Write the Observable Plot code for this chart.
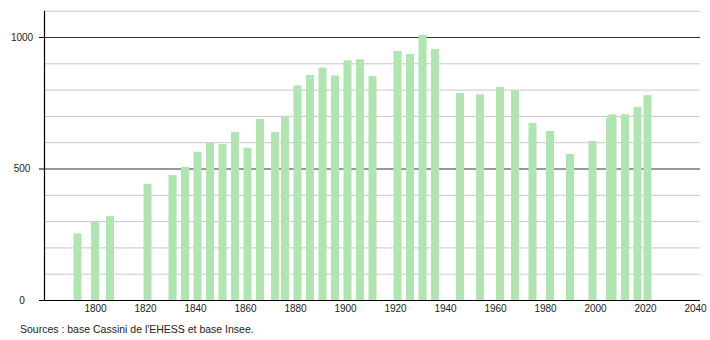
<!DOCTYPE html>
<html>
<head>
<meta charset="utf-8">
<script src="https://cdn.jsdelivr.net/npm/d3@7"></script>
<script src="https://cdn.jsdelivr.net/npm/@observablehq/plot@0.6"></script>
<style>
  body { margin: 0; background: #fff; font-family: "Liberation Sans", Arial, sans-serif; }
  #wrap { position: relative; width: 710px; height: 340px; }
  #caption { position: absolute; left: 20px; top: 323px; font-size: 10.5px; color: #222; white-space: nowrap; }
</style>
</head>
<body>
<div id="wrap">
  <div id="chart"></div>
  <div id="caption">Sources : base Cassini de l'EHESS et base Insee.</div>
</div>
<script>
const years = [1793,1800,1806,1821,1831,1836,1841,1846,1851,1856,1861,1866,1872,1876,1881,1886,1891,1896,1901,1906,1911,1921,1926,1931,1936,1946,1954,1962,1968,1975,1982,1990,1999,2006,2007,2012,2017,2021];
const population = [253,300,319,442,475,506,564,598,593,639,579,688,639,698,816,855,884,854,911,915,852,947,935,1008,954,787,782,810,798,673,643,555,605,693,706,706,733,779];
const xTicks = [1800,1820,1840,1860,1880,1900,1920,1940,1960,1980,2000,2020,2040];
const yLabelTicks = [0,500,1000];
const gridMinor = [100,200,300,400,600,700,800,900,1100];
const gridMajor = [500,1000];

const data = years.map((y, i) => ({year: y, pop: population[i]}));
const xMin = 1779.6, xMax = 2042;
const halfW = 1.6;

const chart = Plot.plot({
  width: 710,
  height: 318,
  marginLeft: 44,
  marginRight: 10,
  marginTop: 10.7,
  marginBottom: 18,
  style: {fontFamily: "Liberation Sans, Arial, sans-serif", fontSize: "10px", color: "#222", background: "#fff"},
  x: {type: "linear", domain: [xMin, xMax], axis: null},
  y: {type: "linear", domain: [0, 1100], axis: null, label: null},
  marks: [
    Plot.ruleY(gridMinor, {stroke: "#c8c8c8", strokeWidth: 1}),
    Plot.ruleY(gridMajor, {stroke: "#333", strokeWidth: 1}),
    Plot.rectY(data, {x1: d => d.year - halfW, x2: d => d.year + halfW, y1: 0, y2: "pop", fill: "#b0e4b0"}),
    Plot.ruleY([0], {stroke: "#000", strokeWidth: 1.2}),
    Plot.ruleY(yLabelTicks, {x1: xMin - 2, x2: xMin, stroke: "#000", strokeWidth: 1}),
    Plot.ruleX([xMin], {y1: 0, y2: 1100, stroke: "#000", strokeWidth: 1.2}),
    Plot.axisY({ticks: yLabelTicks, tickSize: 0, tickPadding: 0, textAnchor: "middle", dx: -22.5, label: null, tickFormat: d => String(d), fill: "#222"}),
    Plot.axisX({ticks: xTicks, tickSize: 0, tickPadding: 4, label: null, tickFormat: d => String(d), fill: "#222"})
  ]
});
document.getElementById("chart").appendChild(chart);
</script>
</body>
</html>
